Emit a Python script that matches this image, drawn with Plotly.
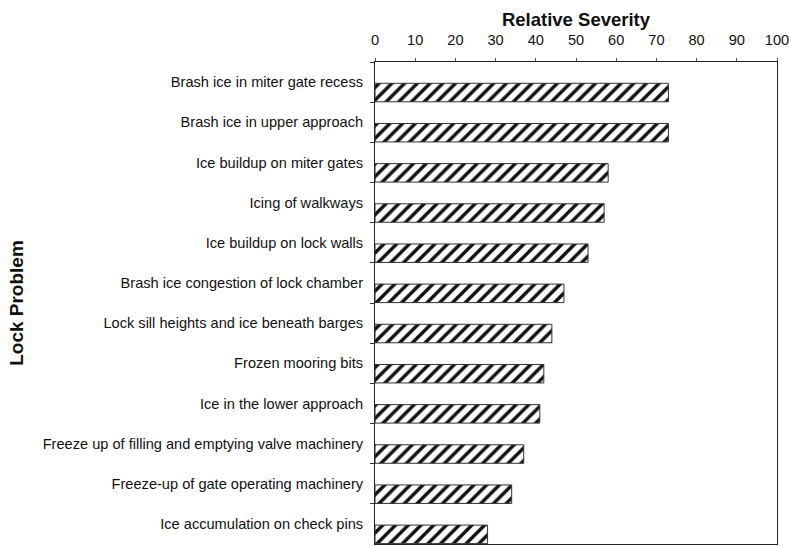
import plotly.graph_objects as go

categories = [
    "Brash ice in miter gate recess",
    "Brash ice in upper approach",
    "Ice buildup on miter gates",
    "Icing of walkways",
    "Ice buildup on lock walls",
    "Brash ice congestion of lock chamber",
    "Lock sill heights and ice beneath barges",
    "Frozen mooring bits",
    "Ice in the lower approach",
    "Freeze up of filling and emptying valve machinery",
    "Freeze-up of gate operating machinery",
    "Ice accumulation on check pins",
]
severity = [73, 73, 58, 57, 53, 47, 44, 42, 41, 37, 34, 28]
x_ticks = [0, 10, 20, 30, 40, 50, 60, 70, 80, 90, 100]

FONT = "Liberation Sans, Arial, sans-serif"

fig = go.Figure()
fig.add_trace(go.Bar(
    y=categories,
    x=severity,
    orientation="h",
    width=0.46,
    offset=0.03,
    marker=dict(
        color="white",
        line=dict(color="#333333", width=1),
        pattern=dict(shape="/", fgcolor="#111111", bgcolor="white",
                     size=9, solidity=0.38, fillmode="replace"),
    ),
    showlegend=False,
    hoverinfo="x+y",
))

fig.update_layout(
    width=790, height=546,
    margin=dict(l=375, r=13, t=62, b=2),
    paper_bgcolor="white",
    plot_bgcolor="white",
    font=dict(family=FONT, size=14.6, color="#111111"),
    xaxis=dict(
        side="top",
        range=[0, 100],
        tickvals=x_ticks,
        ticktext=[str(v) for v in x_ticks],
        ticks="outside", ticklen=3, tickcolor="#555555",
        showline=True, linecolor="#222222", linewidth=1, mirror=True,
        showgrid=False, zeroline=False,
        tickfont=dict(size=14.6),
        ticklabelstandoff=7,
        title=dict(text="<b>Relative Severity</b>", font=dict(size=18.5),
                   standoff=0),
    ),
    yaxis=dict(
        type="category",
        categoryorder="array",
        categoryarray=categories,
        range=[11.5, -0.5],
        tickson="boundaries",
        ticks="outside", ticklen=4, tickcolor="#333333",
        showline=True, linecolor="#222222", linewidth=1, mirror=True,
        showgrid=False, zeroline=False,
        tickfont=dict(size=14.6),
        ticklabelstandoff=8,
        title=dict(text="<b>Lock Problem</b>", font=dict(size=19),
                   standoff=14),
    ),
)

# remove the browser's default 8px body margin so the figure fills the window
fig.write_html(
    "out.html",
    config={"displayModeBar": False},
    post_script="document.body.style.margin='0';document.body.style.overflow='hidden';",
)
